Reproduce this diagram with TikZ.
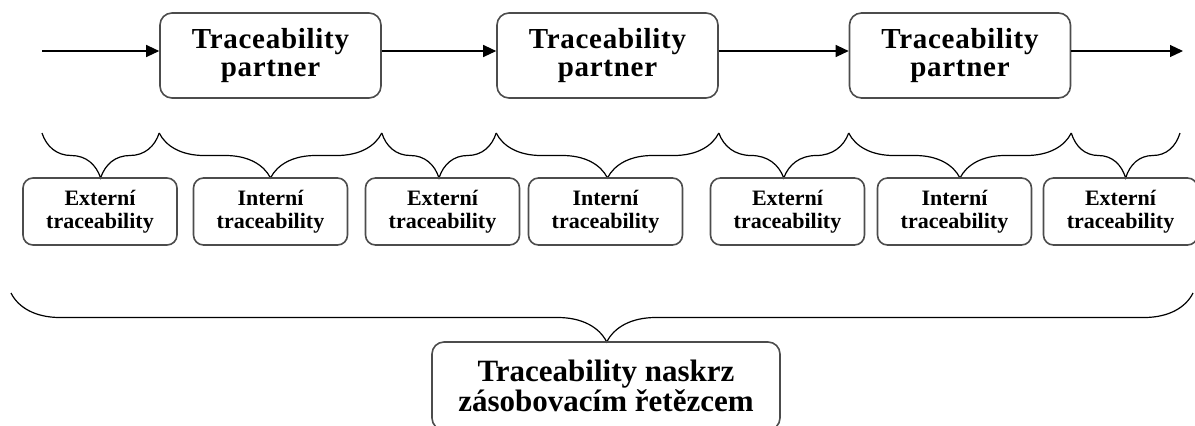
\documentclass[tikz,border=0pt]{standalone}
\usepackage{fontspec}
\setmainfont{Liberation Serif}
\newfontfamily\trackedfont[LetterSpace=2.5]{Liberation Serif}
\usetikzlibrary{arrows.meta,decorations.pathreplacing}

\begin{document}
\begin{tikzpicture}[x=0.5pt,y=0.5pt,
  partner/.style={draw=black!70,line width=0.8pt,rounded corners=6pt,inner sep=0pt,
    minimum width=110.5pt,minimum height=42.5pt,align=center,
    font=\trackedfont\fontsize{14.5}{14}\selectfont\bfseries},
  trace/.style={draw=black!70,line width=0.8pt,rounded corners=5pt,inner sep=0pt,
    minimum width=77pt,minimum height=33.5pt,align=center,
    font=\fontsize{11}{11.5}\selectfont\bfseries},
  chain/.style={draw=black!70,line width=0.8pt,rounded corners=6pt,inner sep=0pt,
    minimum width=174pt,minimum height=44pt,align=center,
    font=\fontsize{15.5}{15}\selectfont\bfseries},
  flow/.style={-{Triangle[length=6.5pt,width=6pt]},line width=0.6pt},
  brc/.style={decorate,decoration={brace,mirror,amplitude=22.5pt},line width=0.6pt}]
  \clip (0,0) rectangle (1195,-425);
  % partners in the chain
  \node[partner] (p1) at (270.5,-55.5) {Traceability\\partner};
  \node[partner] (p2) at (607.5,-55.5) {Traceability\\partner};
  \node[partner] (p3) at (960,-55.5) {Traceability\\partner};
  \coordinate (src) at (42,-51);
  \coordinate (dst) at (1183,-51);
  \draw[flow] (src) -- (p1.west |- src);
  \draw[flow] (p1.east |- src) -- (p2.west |- src);
  \draw[flow] (p2.east |- src) -- (p3.west |- src);
  \draw[flow] (p3.east |- src) -- (dst);
  % brace ends
  \coordinate (lvl) at (0,-133);
  \coordinate (k0) at (src |- lvl);
  \coordinate (k1) at (p1.west |- lvl);
  \coordinate (k2) at (p1.east |- lvl);
  \coordinate (k3) at (p2.west |- lvl);
  \coordinate (k4) at (p2.east |- lvl);
  \coordinate (k5) at (p3.west |- lvl);
  \coordinate (k6) at (p3.east |- lvl);
  \coordinate (k7) at (1180,-133);
  \draw[brc] (k0) -- (k1);
  \draw[brc] (k1) -- (k2);
  \draw[brc] (k2) -- (k3);
  \draw[brc] (k3) -- (k4);
  \draw[brc] (k4) -- (k5);
  \draw[brc] (k5) -- (k6);
  \draw[brc] (k6) -- (k7);
  % external / internal traceability
  \node[trace] (e1) at (100,-211.5) {Externí\\traceability};
  \node[trace] (i1) at (270.5,-211.5) {Interní\\traceability};
  \node[trace] (e2) at (442.5,-211.5) {Externí\\traceability};
  \node[trace] (i2) at (605.5,-211.5) {Interní\\traceability};
  \node[trace] (e3) at (787.5,-211.5) {Externí\\traceability};
  \node[trace] (i3) at (954.5,-211.5) {Interní\\traceability};
  \node[trace] (e4) at (1120.5,-211.5) {Externí\\traceability};
  % whole chain
  \coordinate (w0) at (11,-293);
  \coordinate (w1) at (1193,-293);
  \draw[brc,decoration={amplitude=24.5pt,aspect=0.504}] (w0) -- (w1);
  \node[chain] (all) at (606,-386) {Traceability naskrz\\zásobovacím řetězcem};
\end{tikzpicture}
\end{document}
